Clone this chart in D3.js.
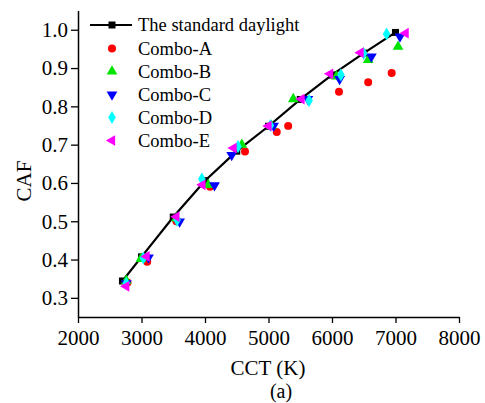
<!DOCTYPE html>
<html><head><meta charset="utf-8">
<script src="https://cdn.jsdelivr.net/npm/d3@7"></script>
<style>
body{margin:0;background:#fff;}
svg{display:block;font-family:"Liberation Serif","Times New Roman",serif;}
</style></head>
<body><svg id="chart" width="485" height="403"></svg>
<script>
const stdCCT = [2700, 3000, 3500, 4000, 4500, 5000, 5500, 6000, 6500, 7000];
const stdCAF = [0.344, 0.407, 0.511, 0.606, 0.683, 0.748, 0.818, 0.882, 0.939, 0.993];
const comboA_CCT = [2780, 3090, 3550, 4080, 4630, 5130, 5310, 6110, 6570, 6940];
const comboA_CAF = [0.340, 0.394, 0.500, 0.590, 0.682, 0.733, 0.749, 0.838, 0.863, 0.887];
const comboB_CCT = [2760, 2990, 3550, 4050, 4580, 5050, 5390, 6070, 6570, 7040];
const comboB_CAF = [0.345, 0.402, 0.508, 0.595, 0.700, 0.749, 0.819, 0.878, 0.921, 0.956];
const comboC_CCT = [2760, 3110, 3600, 4150, 4420, 5080, 5620, 6120, 6620, 7070];
const comboC_CAF = [0.338, 0.405, 0.499, 0.594, 0.673, 0.749, 0.819, 0.871, 0.930, 0.982];
const comboD_CCT = [2760, 3030, 3560, 3950, 4520, 5030, 5640, 6140, 6500, 6860];
const comboD_CAF = [0.338, 0.404, 0.503, 0.610, 0.695, 0.750, 0.815, 0.882, 0.938, 0.989];
const comboE_CCT = [2760, 3080, 3550, 3960, 4450, 5000, 5520, 5970, 6450, 7160];
const comboE_CAF = [0.330, 0.408, 0.512, 0.595, 0.691, 0.749, 0.819, 0.885, 0.940, 0.991];
const xTicks = [2000, 3000, 4000, 5000, 6000, 7000, 8000];
const yTicks = [0.3, 0.4, 0.5, 0.6, 0.7, 0.8, 0.9, 1.0];
const seriesNames = ["Combo-A", "Combo-B", "Combo-C", "Combo-D", "Combo-E"];

const svg = d3.select("#chart");
const x = d3.scaleLinear().domain([2000, 8000]).range([78, 459]);
const y = d3.scaleLinear().domain([0.25, 1.05]).range([317, 10.6]);

// axes
const gx = svg.append("g").attr("transform", "translate(0,317)");
gx.call(d3.axisBottom(x).tickValues(d3.range(2500, 8000, 1000)).tickSize(3).tickSizeOuter(0).tickFormat(""));
gx.call(d3.axisBottom(x).tickValues(xTicks).tickSize(6).tickSizeOuter(0).tickFormat(d3.format("d")));
gx.selectAll("text").attr("y", 28).attr("dy", 0).style("font-size", "21px").style("font-family", "Liberation Serif").attr("fill", "#000");
const gy = svg.append("g").attr("transform", "translate(78,0)");
gy.call(d3.axisLeft(y).tickValues(d3.range(0.25, 1.06, 0.1)).tickSize(3).tickSizeOuter(0).tickFormat(""));
gy.call(d3.axisLeft(y).tickValues(yTicks).tickSize(7).tickSizeOuter(0).tickFormat(d3.format(".1f")));
gy.selectAll("text").attr("x", -10).attr("dy", "0.33em").style("font-size", "21px").style("font-family", "Liberation Serif").attr("fill", "#000");
svg.selectAll(".domain").attr("stroke", "#000").attr("stroke-width", 1.5);
svg.selectAll(".tick line").attr("stroke", "#000").attr("stroke-width", 1.3);

// axis titles
svg.append("text").attr("x", 268).attr("y", 375).attr("text-anchor", "middle").style("font-size", "21px").text("CCT (K)");
svg.append("text").attr("x", 281).attr("y", 398).attr("text-anchor", "middle").style("font-size", "20px").text("(a)");
svg.append("text").attr("transform", "translate(31,181) rotate(-90)").attr("text-anchor", "middle").style("font-size", "21px").text("CAF");

// series definitions
const combos = [
  {name: seriesNames[0], cct: comboA_CCT, caf: comboA_CAF, color: "#ff0000", type: d3.symbolCircle, size: 50, rot: 0},
  {name: seriesNames[1], cct: comboB_CCT, caf: comboB_CAF, color: "#00e400", type: d3.symbolTriangle, size: 50, rot: 0},
  {name: seriesNames[2], cct: comboC_CCT, caf: comboC_CAF, color: "#0000ff", type: d3.symbolTriangle, size: 50, rot: 180},
  {name: seriesNames[3], cct: comboD_CCT, caf: comboD_CAF, color: "#00ffff", type: d3.symbolDiamond, size: 50, rot: 0},
  {name: seriesNames[4], cct: comboE_CCT, caf: comboE_CAF, color: "#ff00ff", type: d3.symbolTriangle, size: 50, rot: -90},
];

// standard daylight line
const stdData = stdCCT.map((c, i) => [c, stdCAF[i]]);
svg.append("path").datum(stdData)
  .attr("fill", "none").attr("stroke", "#000").attr("stroke-width", 2.2)
  .attr("d", d3.line().x(d => x(d[0])).y(d => y(d[1])));
svg.append("g").selectAll("rect").data(stdData).join("rect")
  .attr("x", d => x(d[0]) - 3.5).attr("y", d => y(d[1]) - 3.5)
  .attr("width", 7).attr("height", 7).attr("fill", "#000");

// combos
combos.forEach(s => {
  const data = s.cct.map((c, i) => [c, s.caf[i]]);
  svg.append("g").selectAll("path").data(data).join("path")
    .attr("d", d3.symbol().type(s.type).size(s.size))
    .attr("transform", d => `translate(${x(d[0])},${y(d[1])}) rotate(${s.rot})`)
    .attr("fill", s.color);
});

// legend
const lg = svg.append("g");
lg.append("line").attr("x1", 90).attr("x2", 132).attr("y1", 25).attr("y2", 25).attr("stroke", "#000").attr("stroke-width", 2.2);
lg.append("rect").attr("x", 108.5).attr("y", 21.5).attr("width", 7).attr("height", 7).attr("fill", "#000");
lg.append("text").attr("x", 138).attr("y", 31).style("font-size", "18.5px").text("The standard daylight");
combos.forEach((s, i) => {
  const cy = 48.5 + i * 23;
  lg.append("path").attr("d", d3.symbol().type(s.type).size(s.size))
    .attr("transform", `translate(112,${cy}) rotate(${s.rot})`).attr("fill", s.color);
  lg.append("text").attr("x", 138).attr("y", cy + 6).style("font-size", "18.5px").text(s.name);
});
</script></body></html>
